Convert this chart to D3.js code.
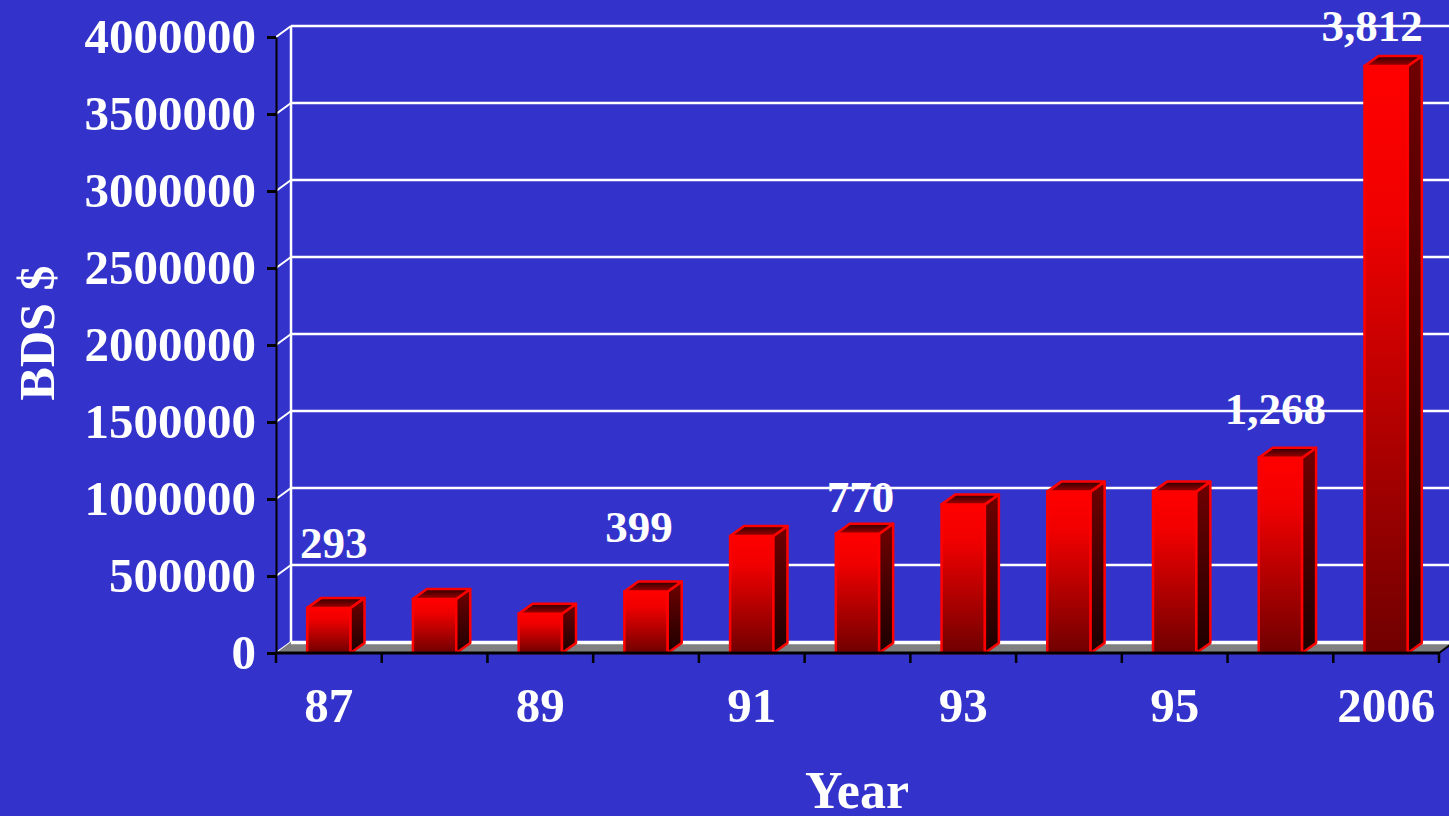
<!DOCTYPE html>
<html>
<head>
<meta charset="utf-8">
<script src="https://cdn.jsdelivr.net/npm/d3@7"></script>
<style>
  html, body { margin: 0; padding: 0; background: #3333cc; overflow: hidden; }
  text { font-family: "Palatino Linotype", "Book Antiqua", Palatino, "Liberation Serif", serif; font-weight: bold; fill: #fff; }
</style>
</head>
<body>
<div id="chart"></div>
<script>
// data ----------------------------------------------------------------------------------------
const years = ['87', '88', '89', '90', '91', '92', '93', '94', '95', '96', '2006'];
const spending = [293000, 350000, 255000, 399000, 760000, 775000, 965000, 1048000, 1048000, 1268000, 3812000];
const shownYears = ['87', '89', '91', '93', '95', '2006'];
const yTicks = [0, 500000, 1000000, 1500000, 2000000, 2500000, 3000000, 3500000, 4000000];
const labelYears = ['87', '90', '92', '96', '2006'];
const labelTexts = ['293', '399', '770', '1,268', '3,812'];

// layout --------------------------------------------------------------------------------------
const width = 1449, height = 816;
const margin = { top: 37, bottom: 163, left: 276, right: 10 };
const depth = { x: 15, y: -11 };      // wall / floor depth
const barDepth = { x: 14, y: -10 };
// hand placed label nudges (dx, dy above the bar top)
const labelNudge = [[5, -50], [-7, -50], [3, -22], [-5, -34], [-14, -25]];

const svg = d3.select('#chart').append('svg')
  .attr('width', width)
  .attr('height', height);

const defs = svg.append('defs');
function grad (id, stops) {
  const g = defs.append('linearGradient').attr('id', id)
    .attr('x1', 0).attr('y1', 0).attr('x2', 0).attr('y2', 1);
  stops.forEach(s => g.append('stop').attr('offset', s[0]).attr('stop-color', s[1]));
}
grad('front-grad', [[0, '#ff0000'], [0.25, '#f00000'], [1, '#700000']]);
grad('side-grad', [[0, '#700000'], [1, '#1c0000']]);
grad('top-grad', [[0, '#300000'], [1, '#a00000']]);

// scales --------------------------------------------------------------------------------------
const x = d3.scaleBand()
  .domain(years)
  .range([margin.left, 1439])
  .paddingInner(0.59)
  .paddingOuter(0.295);
const y = d3.scaleLinear()
  .domain([0, 4000000])
  .range([height - margin.bottom, margin.top]);
const x0 = x.range()[0], x1 = x.range()[1], y0 = y(0);

// back wall gridlines -------------------------------------------------------------------------
const grid = svg.append('g');
grid.selectAll('.grid-line')
  .data(yTicks)
  .enter().append('line')
  .attr('x1', x0 + depth.x).attr('x2', x1 + depth.x)
  .attr('y1', d => y(d) + depth.y).attr('y2', d => y(d) + depth.y)
  .attr('stroke', '#fff').attr('stroke-width', 2.5);
// left wall
grid.selectAll('.wall-line')
  .data(yTicks)
  .enter().append('line')
  .attr('x1', x0).attr('x2', x0 + depth.x)
  .attr('y1', d => y(d)).attr('y2', d => y(d) + depth.y)
  .attr('stroke', '#fff').attr('stroke-width', 2);
grid.append('line')
  .attr('x1', x0 + depth.x).attr('x2', x0 + depth.x)
  .attr('y1', y(4000000) + depth.y).attr('y2', y0 + depth.y)
  .attr('stroke', '#fff').attr('stroke-width', 2.5);

// floor ---------------------------------------------------------------------------------------
svg.append('path')
  .attr('d', `M${x0},${y0}L${x1},${y0}L${x1 + depth.x},${y0 + depth.y}L${x0 + depth.x},${y0 + depth.y}Z`)
  .attr('fill', '#808080');
svg.append('line')
  .attr('x1', x0 + depth.x).attr('x2', x1 + depth.x)
  .attr('y1', y0 + depth.y + 1).attr('y2', y0 + depth.y + 1)
  .attr('stroke', '#fff').attr('stroke-width', 2.5);

// bars ----------------------------------------------------------------------------------------
const bars = svg.append('g')
  .selectAll('g')
  .data(years.map((yr, i) => ({ year: yr, value: spending[i] })))
  .enter().append('g');
const bw = x.bandwidth();
bars.append('rect')
  .attr('x', d => x(d.year))
  .attr('y', d => y(d.value))
  .attr('width', bw)
  .attr('height', d => y0 - y(d.value))
  .attr('fill', 'url(#front-grad)')
  .attr('stroke', '#ff0000').attr('stroke-width', 2.5);
bars.append('path')
  .attr('d', d => {
    const l = x(d.year) + bw, t = y(d.value);
    return `M${l},${t}L${l + barDepth.x},${t + barDepth.y}L${l + barDepth.x},${y0 + barDepth.y}L${l},${y0}Z`;
  })
  .attr('fill', 'url(#side-grad)')
  .attr('stroke', '#ff0000').attr('stroke-width', 2.5).attr('stroke-linejoin', 'round');
bars.append('path')
  .attr('d', d => {
    const l = x(d.year), t = y(d.value);
    return `M${l},${t}L${l + bw},${t}L${l + bw + barDepth.x},${t + barDepth.y}L${l + barDepth.x},${t + barDepth.y}Z`;
  })
  .attr('fill', 'url(#top-grad)')
  .attr('stroke', '#ff0000').attr('stroke-width', 2.5).attr('stroke-linejoin', 'round');

// y axis --------------------------------------------------------------------------------------
const yAxis = svg.append('g')
  .attr('transform', 'translate(' + x0 + ',0)')
  .call(d3.axisLeft(y).tickValues(yTicks).tickFormat(d3.format('d')).tickSize(9).tickSizeOuter(0).tickPadding(11));
yAxis.select('.domain').attr('stroke', '#000').attr('stroke-width', 2);
yAxis.selectAll('.tick line').attr('stroke', '#000').attr('stroke-width', 3);
yAxis.selectAll('text')
  .attr('fill', '#fff')
  .attr('font-size', '49px')
  .attr('font-family', '"Palatino Linotype", "Book Antiqua", Palatino, "Liberation Serif", serif')
  .attr('font-weight', 'bold');

// x axis --------------------------------------------------------------------------------------
const xAxis = svg.append('g');
const bounds = years.map(yr => x(yr) - x.step() * x.paddingInner() / 2).concat([x1]);
xAxis.append('line')
  .attr('x1', x0).attr('x2', x1).attr('y1', y0).attr('y2', y0)
  .attr('stroke', '#000').attr('stroke-width', 3);
xAxis.append('line')
  .attr('x1', x1).attr('x2', x1 + depth.x).attr('y1', y0).attr('y2', y0 + depth.y)
  .attr('stroke', '#000').attr('stroke-width', 2);
xAxis.selectAll('.xtick')
  .data(bounds)
  .enter().append('line')
  .attr('x1', d => d).attr('x2', d => d)
  .attr('y1', y0).attr('y2', y0 + 10)
  .attr('stroke', '#000').attr('stroke-width', 2.5);
xAxis.selectAll('.xlabel')
  .data(shownYears)
  .enter().append('text')
  .attr('x', d => x(d) + bw / 2)
  .attr('y', y0 + 69)
  .attr('text-anchor', 'middle')
  .attr('font-size', '49px')
  .text(d => d);

// value labels --------------------------------------------------------------------------------
svg.append('g')
  .selectAll('text')
  .data(labelYears)
  .enter().append('text')
  .attr('x', (d, i) => x(d) + bw / 2 + labelNudge[i][0])
  .attr('y', (d, i) => y(spending[years.indexOf(d)]) + labelNudge[i][1])
  .attr('text-anchor', 'middle')
  .attr('font-size', '45px')
  .text((d, i) => labelTexts[i]);

// axis titles ---------------------------------------------------------------------------------
svg.append('text')
  .attr('transform', 'translate(54,333) rotate(-90)')
  .attr('text-anchor', 'middle')
  .attr('font-size', '50px')
  .text('BDS $');
svg.append('text')
  .attr('x', 857)
  .attr('y', 808)
  .attr('text-anchor', 'middle')
  .attr('font-size', '52px')
  .text('Year');
</script>
</body>
</html>
